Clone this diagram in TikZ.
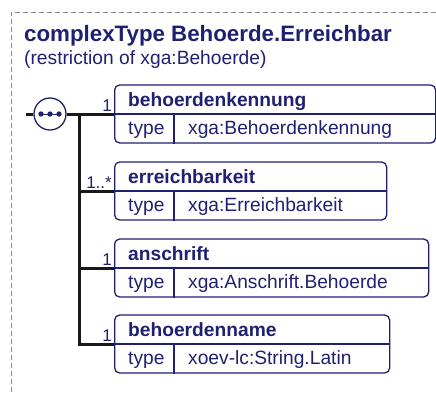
\documentclass[tikz,border=0pt]{standalone}
\usepackage{fontspec}
\setmainfont{Liberation Sans}
\definecolor{xsdblue}{RGB}{32,32,112}
\definecolor{framegray}{RGB}{140,140,140}
\tikzset{
  elbox/.style={draw=xsdblue, line width=1.3pt, rounded corners=5pt,
    minimum height=58pt, inner sep=0pt, anchor=west},
  elline/.style={draw=xsdblue, line width=1.3pt},
  tree/.style={draw=black!90, line width=3pt},
  nametxt/.style={text=xsdblue, inner sep=0pt, anchor=base west,
    font=\fontsize{19.2}{22}\bfseries\selectfont},
  txt/.style={text=xsdblue, inner sep=0pt, anchor=base west,
    font=\fontsize{19.2}{22}\selectfont},
  multtxt/.style={text=xsdblue, inner sep=0pt, anchor=base east,
    font=\fontsize{17}{20}\selectfont},
}
\begin{document}
\begin{tikzpicture}[x=1pt,y=-1pt]
\useasboundingbox (0,0) rectangle (436,392);
% frame
\draw[framegray, line width=0.8pt, dash pattern=on 5pt off 3pt] (11,392) -- (11,12) -- (436,12);
\node[txt, font=\fontsize{22.3}{26}\bfseries\selectfont] (title) at (24,41.5) {complexType Behoerde.Erreichbar};
\node[txt] (subtitle) at (24,64) {(restriction of xga:Behoerde)};

% sequence
\node[circle, draw=xsdblue, line width=1.3pt, minimum size=32pt, inner sep=0pt] (seq) at (50,114) {};
\draw[elline, line width=1pt] (41,114) -- (59,114);
\foreach \x in {41,50,59}
{
    \fill[xsdblue] (\x,114) circle (2.7pt);
}
\coordinate (stub) at (26,114);
\coordinate (trunk) at (79,114);
\draw[tree] (stub) -- (seq.west);
\draw[tree] (seq.east) -- (trunk);

\foreach \nm/\el/\ty/\y/\w/\mult in {kennung/behoerdenkennung/xga:Behoerdenkennung/114/321/1,
    erreich/erreichbarkeit/xga:Erreichbarkeit/191/272/1..*,
    anschrift/anschrift/xga:Anschrift.Behoerde/268/314/1,
    name/behoerdenname/xoev-lc:String.Latin/344/275/1}
{
    \node[elbox, minimum width=\w pt] (\nm) at (114,\y) {};
    \draw[elline] (\nm.west) -- (\nm.east);
    \draw[elline] ([xshift=60pt]\nm.west) -- ([xshift=60pt]\nm.south west);
    \node[nametxt] (\nm-name) at ([xshift=14pt,yshift=8pt]\nm.west) {\el};
    \node[txt] (\nm-key) at ([xshift=14pt,yshift=-20pt]\nm.west) {type};
    \node[txt] (\nm-type) at ([xshift=74pt,yshift=-20pt]\nm.west) {\ty};
    \node[multtxt] (\nm-mult) at ([xshift=-2pt,yshift=3pt]\nm.west) {\mult};
    \draw[tree] (trunk) |- (\nm.west);
}
\end{tikzpicture}
\end{document}
